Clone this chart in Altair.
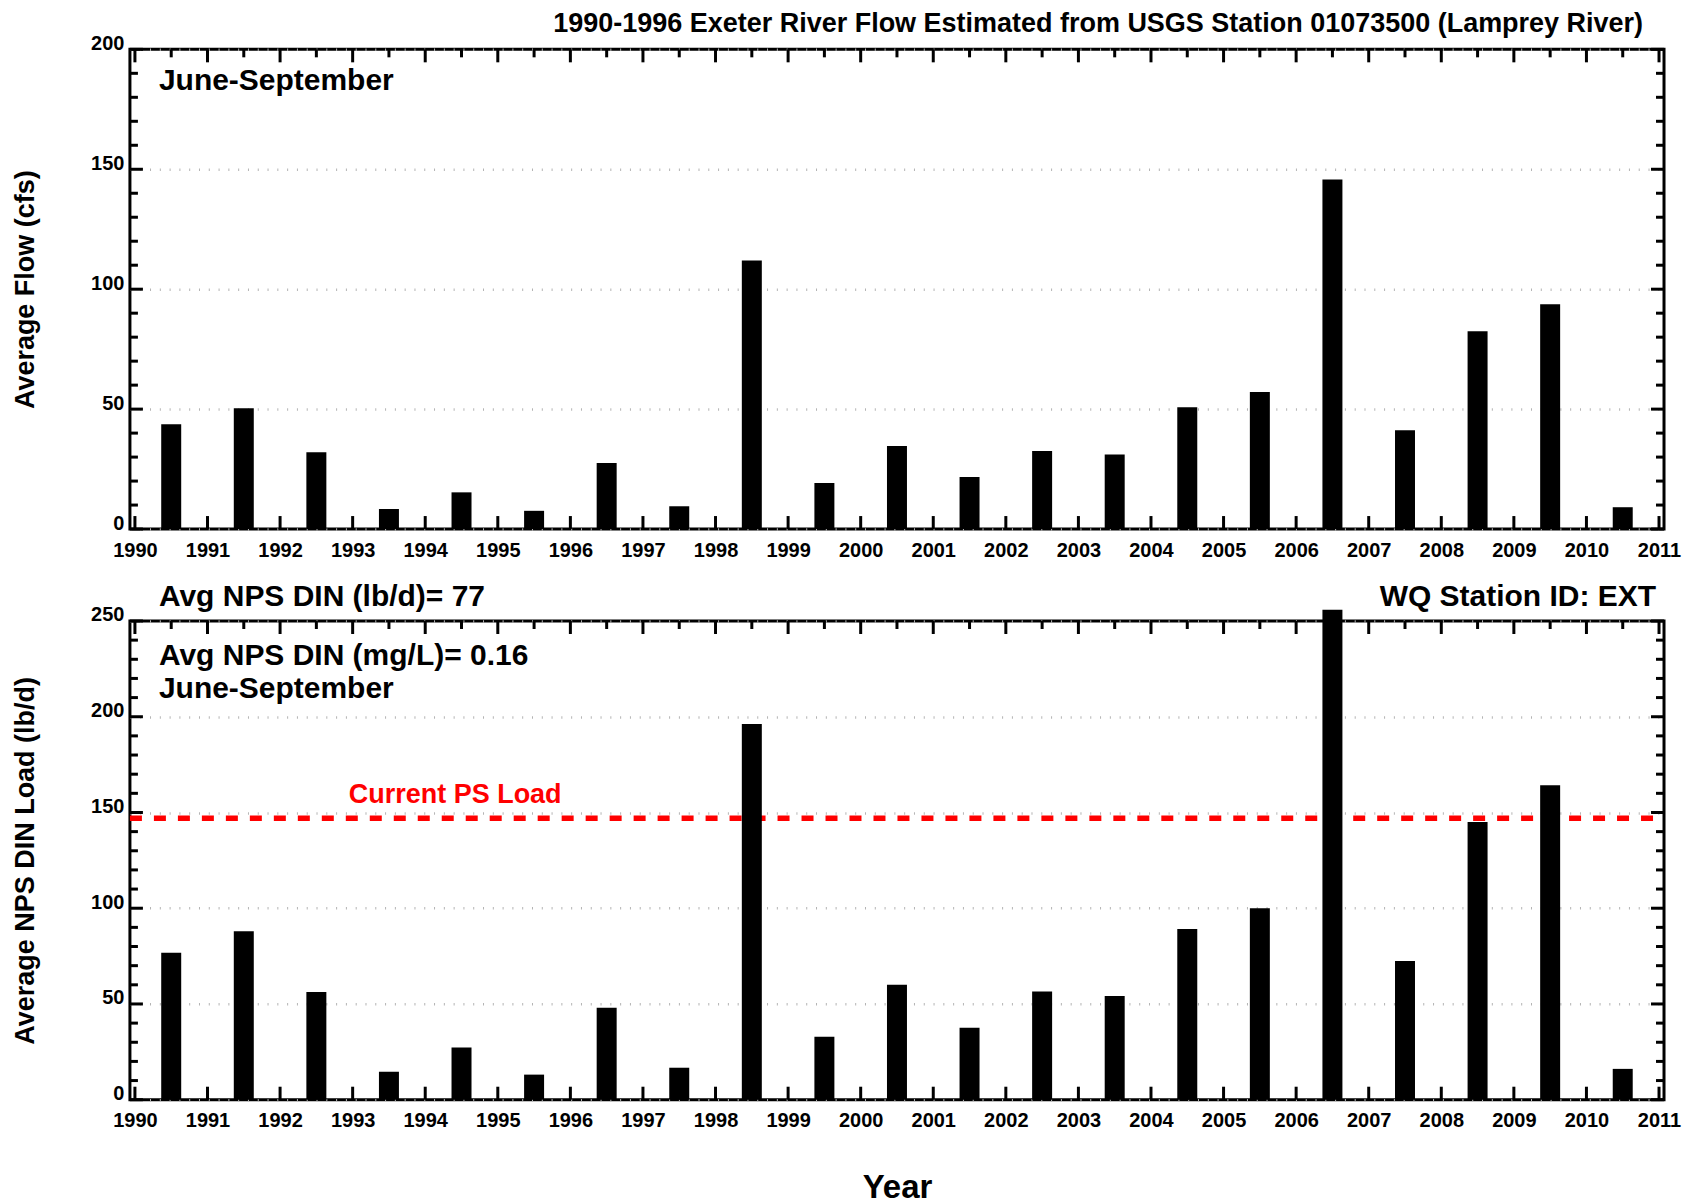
import altair as alt
import pandas as pd

# ---------------- data ----------------
years = list(range(1990, 2011))
flow_cfs = [43.7, 50.4, 32.0, 8.4, 15.3, 7.6, 27.5, 9.5, 112.0, 19.2, 34.6,
            21.7, 32.5, 31.1, 50.8, 57.1, 145.7, 41.2, 82.5, 93.7, 9.1]
din_load = [76.7, 88.0, 56.3, 14.6, 27.2, 13.1, 48.0, 16.7, 196.2, 32.9, 60.0,
            37.6, 56.5, 54.2, 89.1, 100.0, 255.9, 72.4, 145.0, 164.2, 16.1]
ps_load = [147]

year_ticks = list(range(1990, 2012))
half_year_ticks = [y + 0.5 for y in range(1990, 2011)]
flow_major = [0, 50, 100, 150, 200]
flow_minor = [v for v in range(10, 200, 10) if v % 50]
load_major = [0, 50, 100, 150, 200, 250]
load_minor = [v for v in range(10, 250, 10) if v % 50]

title_text = "1990-1996 Exeter River Flow Estimated from USGS Station 01073500 (Lamprey River)"
season_text = "June-September"
avg_lbd_text = "Avg NPS DIN (lb/d)= 77"
avg_mgl_text = "Avg NPS DIN (mg/L)= 0.16"
station_text = "WQ Station ID: EXT"
ps_text = "Current PS Load"

FONT = "Liberation Sans"
W = 1535
H1 = 480
H2 = 479
TXT = 30

xscale = alt.Scale(domain=[1990, 2011], nice=False, zero=False)
flow_scale = alt.Scale(domain=[0, 200], nice=False, zero=True)
load_scale = alt.Scale(domain=[0, 250], nice=False, zero=True)


def yaxis(values, title, h):
    return alt.Axis(values=values, grid=True, gridColor="#b4b4b4", gridDash=[1, 8.8],
                    gridWidth=2.5, ticks=False, domain=False, labelFontSize=20,
                    labelPadding=6, labelBaseline="alphabetic", labelFlush=False,
                    labelOverlap=False, title=title, titleFontSize=27, titleX=-96,
                    titleY=h / 2, titleAngle=270, titleBaseline="alphabetic",
                    titleAlign="center")


def xaxis(title):
    kw = dict(values=year_ticks, format="d", grid=False, ticks=False, domain=False,
              labelPadding=11, labelFlush=False, labelOverlap=False,
              labelFontSize=20, labelBaseline="top")
    if title:
        kw.update(title=title, titleFontSize=33, titleX=W / 2, titleY=98,
                  titleBaseline="alphabetic", titleAlign="center")
    else:
        kw.update(title=None)
    return alt.Axis(**kw)


def frame_ticks(yscale, major_y, minor_y, h):
    layers = []
    for vals, L in ((major_y, 13), (minor_y, 8)):
        base = alt.Chart(pd.DataFrame({"v": vals})).mark_rule(color="black", strokeWidth=3)
        yy = alt.Y("v:Q", scale=yscale, axis=None)
        layers.append(base.encode(y=yy, x=alt.value(0), x2=alt.value(L)))
        layers.append(base.encode(y=yy, x=alt.value(W), x2=alt.value(W - L)))
    for vals, L in ((year_ticks, 13), (half_year_ticks, 8)):
        base = alt.Chart(pd.DataFrame({"v": vals})).mark_rule(color="black", strokeWidth=3)
        xx = alt.X("v:Q", scale=xscale, axis=None)
        layers.append(base.encode(x=xx, y=alt.value(0), y2=alt.value(L)))
        layers.append(base.encode(x=xx, y=alt.value(h), y2=alt.value(h - L)))
    return layers


def text_layer(txt, x, y, size, align="left", color="black"):
    return alt.Chart(pd.DataFrame({"t": [txt]})).mark_text(
        font=FONT, fontWeight="bold", fontSize=size, align=align,
        baseline="alphabetic", color=color
    ).encode(text="t:N", x=alt.value(x), y=alt.value(y))


# ---------------- top panel ----------------
flow_df = pd.DataFrame({"year": years, "flow": flow_cfs})
top_bars = alt.Chart(flow_df).transform_calculate(xc="datum.year + 0.5").mark_bar(
    size=20, color="black"
).encode(
    x=alt.X("xc:Q", scale=xscale, axis=xaxis(None)),
    y=alt.Y("flow:Q", scale=flow_scale, axis=yaxis(flow_major, "Average Flow (cfs)", H1)),
)
top = alt.layer(
    top_bars,
    *frame_ticks(flow_scale, flow_major, flow_minor, H1),
    text_layer(title_text, 1514, -17, 27, align="right"),
    text_layer(season_text, 29, 41, TXT),
).resolve_axis(x="independent", y="independent").properties(width=W, height=H1)

# ---------------- bottom panel ----------------
load_df = pd.DataFrame({"year": years, "load": din_load})
ps_line = alt.Chart(pd.DataFrame({"ps": ps_load})).mark_rule(
    color="#ff0000", strokeWidth=5.5, strokeDash=[12, 12]
).encode(y=alt.Y("ps:Q", scale=load_scale, axis=None), x=alt.value(0), x2=alt.value(W))
bot_bars = alt.Chart(load_df).transform_calculate(xc="datum.year + 0.5").mark_bar(
    size=20, color="black"
).encode(
    x=alt.X("xc:Q", scale=xscale, axis=xaxis("Year")),
    y=alt.Y("load:Q", scale=load_scale, axis=yaxis(load_major, "Average NPS DIN Load (lb/d)", H2)),
)
bottom = alt.layer(
    ps_line,
    bot_bars,
    *frame_ticks(load_scale, load_major, load_minor, H2),
    text_layer(avg_lbd_text, 29, -15, TXT),
    text_layer(station_text, 1527, -15, TXT, align="right"),
    text_layer(avg_mgl_text, 29, 44, TXT),
    text_layer(season_text, 29, 77, TXT),
    text_layer(ps_text, 219, 182, 27, color="#ff0000"),
).resolve_axis(x="independent", y="independent").properties(width=W, height=H2)

chart = alt.vconcat(top, bottom, spacing=18).properties(
    padding={"left": 2, "top": 0, "right": 5, "bottom": 0}
).configure_axis(
    labelFont=FONT, titleFont=FONT, labelFontWeight="bold", titleFontWeight="bold",
    labelColor="black", titleColor="black"
).configure_view(stroke="black", strokeWidth=3)

chart.save("out.html", embed_options={"renderer": "svg", "actions": False})
